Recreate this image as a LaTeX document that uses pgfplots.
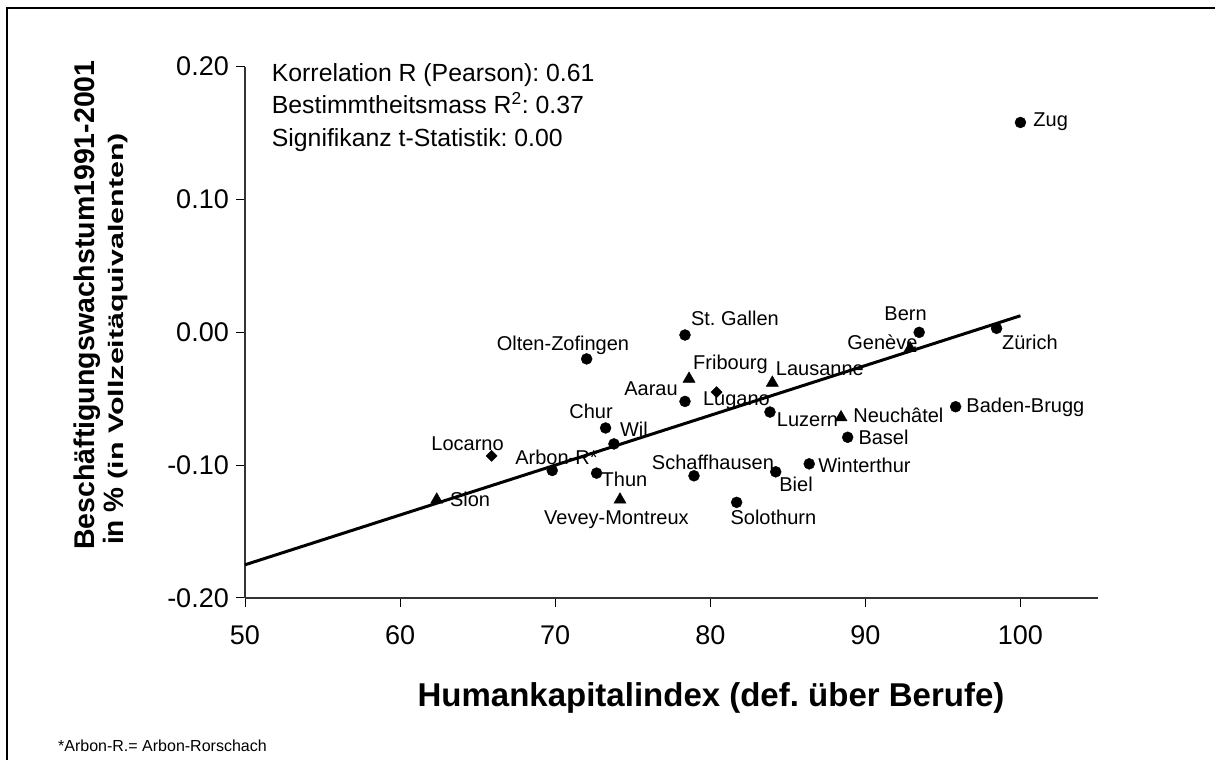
\documentclass[border=0pt]{standalone}
\usepackage{pgfplots}
\pgfplotsset{compat=1.18}
\usepackage{pgfplotstable}
\usepackage{graphicx}
\usepackage{fontspec}
\setmainfont{Liberation Sans}
\pgfplotstableread{
x y
100.00 0.158
78.37 -0.002
72.03 -0.020
78.37 -0.052
83.85 -0.060
73.25 -0.072
73.79 -0.084
69.81 -0.104
72.67 -0.106
78.95 -0.108
84.22 -0.105
86.38 -0.099
81.70 -0.128
93.47 0.000
98.46 0.003
95.82 -0.056
88.86 -0.079
}\dots
\pgfplotstableread{
x y
78.63 -0.035
84.00 -0.038
62.36 -0.126
74.18 -0.126
92.88 -0.012
88.43 -0.064
}\tris
\pgfplotstableread{
x y
80.41 -0.045
65.90 -0.093
}\dias
\newcommand{\lbl}{\fontsize{20}{20}\selectfont}
\begin{document}
\frenchspacing
\begin{tikzpicture}[x=1pt,y=1pt]
\useasboundingbox (0,0) rectangle (1215,760);
\draw[line width=2.5pt] (7,0) -- (7,752) -- (1215,752);
\begin{axis}[
  at={(245pt,162pt)}, anchor=south west,
  width=853pt, height=531.3pt, scale only axis,
  xmin=50, xmax=105, ymin=-0.2, ymax=0.2,
  axis x line*=bottom, axis y line*=left,
  axis line style={black!80, line width=1.2pt, -},
  xtick={50,60,70,80,90,100},
  ytick={-0.2,-0.1,0,0.1,0.2},
  yticklabels={-0.20,-0.10,0.00,0.10,0.20},
  tick align=outside, major tick length=9pt,
  tick style={black, line width=1pt},
  xticklabel style={font=\fontsize{27}{27}\selectfont, anchor=center, inner sep=0pt, yshift=-28pt},
  yticklabel style={font=\fontsize{27}{27}\selectfont, anchor=east, inner sep=0pt, xshift=-7pt},
  /pgf/number format/assume math mode=true,
  clip=false,
]
\addplot[black, line width=3pt] coordinates {(50,-0.175) (100,0.0125)};
\addplot[only marks, mark=*, mark size=5.5pt, black] table {\dots};
\addplot[only marks, mark=triangle*, mark size=7pt, black] table {\tris};
\addplot[only marks, mark=square*, mark size=3.9pt, mark options={rotate=45}, black] table {\dias};
\node[font=\lbl, anchor=west] at (100.61,0.1585) {Zug};
\node[font=\lbl] at (81.59,0.0108) {St. Gallen};
\node[font=\lbl] at (70.50,-0.0095) {Olten-Zofingen};
\node[font=\lbl] at (81.30,-0.0238) {Fribourg};
\node[font=\lbl] at (87.07,-0.0276) {Lausanne};
\node[font=\lbl] at (76.18,-0.0427) {Aarau};
\node[font=\lbl] at (81.69,-0.0517) {Lugano};
\node[font=\lbl] at (72.31,-0.0592) {Chur};
\node[font=\lbl] at (75.08,-0.0728) {Wil};
\node[font=\lbl] at (64.35,-0.0841) {Locarno};
\node[font=\lbl] at (70.08,-0.0939) {Arbon-R*};
\node[font=\lbl] at (74.47,-0.1104) {Thun};
\node[font=\lbl] at (80.17,-0.0976) {Schaffhausen};
\node[font=\lbl] at (85.53,-0.1142) {Biel};
\node[font=\lbl] at (64.51,-0.1255) {Sion};
\node[font=\lbl] at (73.95,-0.1413) {Vevey-Montreux};
\node[font=\lbl] at (84.07,-0.1390) {Solothurn};
\node[font=\lbl] at (92.59,0.0139) {Bern};
\node[font=\lbl] at (91.10,-0.0072) {Genève};
\node[font=\lbl] at (100.61,-0.0072) {Zürich};
\node[font=\lbl] at (100.32,-0.0562) {Baden-Brugg};
\node[font=\lbl] at (92.13,-0.0622) {Neuchâtel};
\node[font=\lbl] at (86.27,-0.0660) {Luzern};
\node[font=\lbl] at (91.17,-0.0788) {Basel};
\node[font=\lbl] at (89.94,-0.0999) {Winterthur};
\end{axis}
\begin{scope}[font=\fontsize{24.8}{24.8}\selectfont]
\node[anchor=base west, inner sep=0pt] at (271.7,678.3) {Korrelation R (Pearson): 0.61};
\node[anchor=base west, inner sep=0pt] at (271.7,646) {Bestimmtheitsmass R\textsuperscript{2}: 0.37};
\node[anchor=base west, inner sep=0pt] at (271.7,613.3) {Signifikanz t-Statistik: 0.00};
\end{scope}
\node[font=\fontsize{33}{33}\selectfont\bfseries, inner sep=0pt] at (711,62) {Humankapitalindex (def. über Berufe)};
\node[font=\fontsize{28.5}{28.5}\selectfont\bfseries, rotate=90, anchor=base, inner sep=0pt] at (94,455) {Beschäftigungswachstum1991-2001};
\node[rotate=90, anchor=base west, inner sep=0pt] at (123,215) {\bfseries\fontsize{28}{28}\selectfont in \%~\fontsize{21}{21}\selectfont\scalebox{1.45}[1]{(in Vollzeitäquivalenten)}};
\node[font=\fontsize{16}{16}\selectfont, anchor=base west, inner sep=0pt] at (58,9) {*Arbon-R.= Arbon-Rorschach};
\end{tikzpicture}
\end{document}
